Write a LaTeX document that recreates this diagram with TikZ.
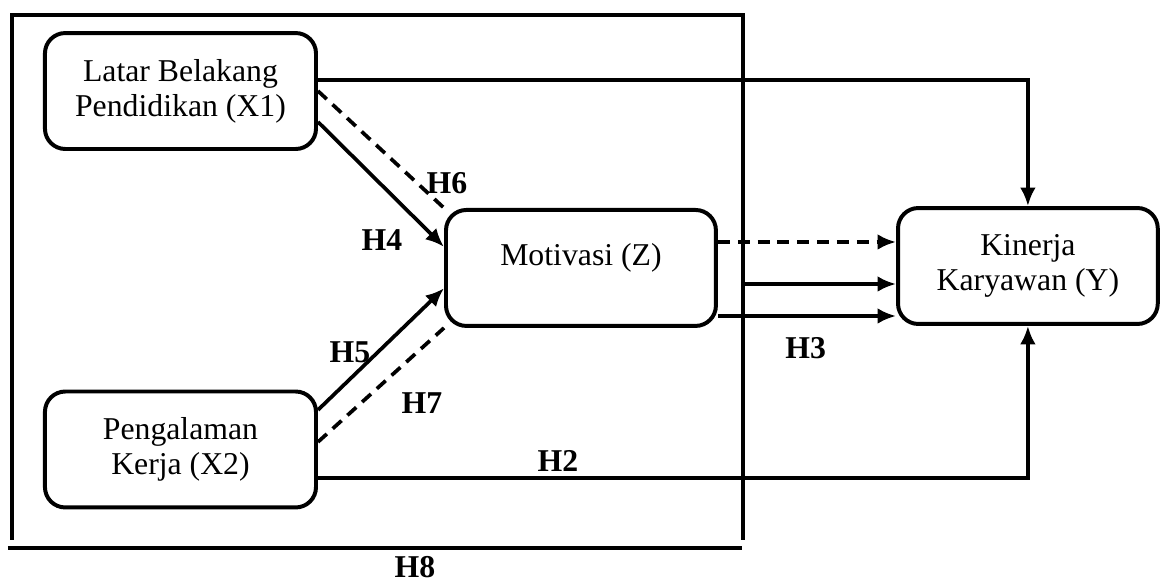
\documentclass[tikz,border=0pt]{standalone}
\usepackage{fontspec}
\setmainfont{Liberation Serif}
\usetikzlibrary{calc,arrows.meta}

\tikzset{
  varbox/.style={draw, line width=1.5pt, rounded corners=0.27cm, fill=white,
    align=center, inner sep=0pt, minimum width=3.6cm, minimum height=1.54cm},
  panah/.style={-{Latex[length=7pt,width=6pt]}, line width=1.4pt},
  putus/.style={line width=1.4pt, dash pattern=on 4.5pt off 3pt},
  hlabel/.style={font=\fontsize{12pt}{13.2pt}\selectfont\bfseries}
}

\begin{document}
\begin{tikzpicture}[font=\fontsize{12pt}{13.2pt}\selectfont]

\useasboundingbox (0,0) rectangle (15.42,7.716);

% Bingkai X1, X2 dan Z
\coordinate (bka) at (0.159,0.544);
\coordinate (bkb) at (9.867,7.517);
\draw[line width=1.4pt]
(bka)
-- (bka |- bkb)
-- (bkb)
-- (bkb |- bka);

\coordinate (gka) at (0.106,0.438);
\coordinate (gkb) at (9.854,0.438);
\draw[line width=1.5pt] (gka) -- (gkb);

% Variabel
\node[varbox] (X1) at (2.397,6.507) {Latar Belakang\\Pendidikan (X1)};
\node[varbox] (X2) at (2.397,1.746) {Pengalaman\\Kerja (X2)};
\node[varbox, minimum width=3.585cm, text height=9pt, text depth=10.5pt]
  (Z) at (7.716,4.157) {Motivasi (Z)};
\node[varbox, minimum width=3.45cm] (Y) at (13.652,4.183) {Kinerja\\Karyawan (Y)};

% Pengaruh langsung ke Y
\draw[panah] ($(X1.east)+(0,0.15)$) -| (Y.north);
\draw[panah] ($(X2.east)+(0,-0.38)$) -| (Y.south);

% X1 dan X2 ke Z
\draw[panah] ($(X1.east)+(0,-0.41)$) -- ($(Z.west)+(0,0.28)$);
\draw[putus] (X1.east) -- (Z.north west);
\draw[panah] ($(X2.east)+(0,0.525)$) -- ($(Z.west)+(0,-0.27)$);
\draw[putus] ($(X2.east)+(0,0.1)$) -- (Z.south west);

% Z ke Y
\coordinate (za) at ($(Z.east)+(0,0.345)$);
\coordinate (zb) at ($(Z.east)+(0,-0.638)$);
\coordinate (bkc) at (bkb |- 0,3.944);
\draw[panah, putus] (za) -- (za -| Y.west);
\draw[panah] (bkc) -- (bkc -| Y.west);
\draw[panah] (zb) -- (zb -| Y.west);

% Hipotesis
\node[hlabel] (h2) at (7.41,1.594) {H2};
\node[hlabel] (h3) at (10.70,3.094) {H3};
\node[hlabel] (h4) at (5.073,4.528) {H4};
\node[hlabel] (h5) at (4.648,3.041) {H5};
\node[hlabel] (h6) at (5.936,5.285) {H6};
\node[hlabel] (h7) at (5.604,2.364) {H7};
\node[hlabel] (h8) at (5.51,0.186) {H8};

\end{tikzpicture}
\end{document}
